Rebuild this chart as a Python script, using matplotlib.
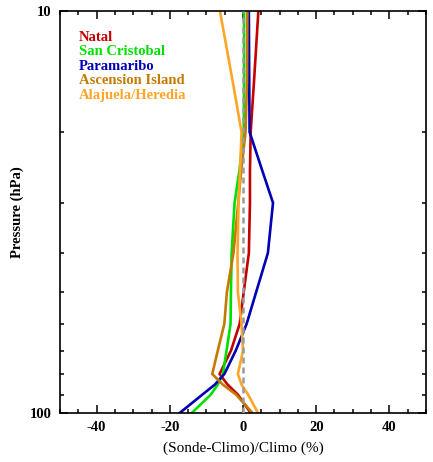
import matplotlib
matplotlib.use("Agg")
import matplotlib.pyplot as plt
from matplotlib.ticker import NullFormatter, MultipleLocator

plt.rcParams["axes.unicode_minus"] = False

# pressure levels (hPa) shared by all stations
pressure = [10, 15, 20, 25, 30, 40, 50, 60, 70, 80, 85, 90, 100]

# relative difference sonde vs climatology (%)
natal = [4.2, 3.0, 2.1, 1.9, 1.9, 1.6, 0.2, -0.9, -3.3, -6.4, -4.2, -1.4, 2.1]
san_cristobal = [0.3, 0.3, 0.2, -1.0, -2.3, -3.1, -3.3, -3.4, -4.5, -5.5, -6.9, -8.8, -14.0]
paramaribo = [1.6, 1.7, 1.8, 5.3, 8.2, 6.8, 3.6, 1.0, -2.0, -5.1, -7.7, -11.1, -17.3]
ascension = [1.2, 1.1, 0.7, -0.5, -1.3, -2.6, -4.4, -5.1, -6.9, -8.4, -5.5, -1.9, 2.6]
alajuela = [-6.3, -2.8, -0.4, -0.8, -1.2, -1.5, -1.4, -0.4, 0.0, -1.4, -0.4, 1.4, 4.1]

stations = ["Natal", "San Cristobal", "Paramaribo", "Ascension Island", "Alajuela/Heredia"]
profiles = [natal, san_cristobal, paramaribo, ascension, alajuela]
colors = ["#C40000", "#00E000", "#0000B4", "#C47A00", "#FFA528"]

serif = ["Liberation Serif", "DejaVu Serif"]

fig = plt.figure(figsize=(4.33, 4.62), dpi=100)
ax = fig.add_axes([60 / 433, 1 - 413 / 462, 366 / 433, 402 / 462])

for prof, col in zip(profiles, colors):
    ax.plot(prof, pressure, color=col, lw=1.9, solid_joinstyle="miter")

ax.axvline(0, color="#9a9a9a", lw=1.8, ls=(0, (2.4, 1.6)), zorder=5)

ax.set_yscale("log")
ax.set_ylim(100, 10)
ax.set_xlim(-50, 50)

ax.set_yticks([10, 100])
ax.set_yticklabels(["10", "100"])
ax.set_yticks(list(range(20, 100, 10)), minor=True)
ax.yaxis.set_minor_formatter(NullFormatter())

ax.xaxis.set_major_locator(MultipleLocator(20))
ax.xaxis.set_minor_locator(MultipleLocator(5))

ax.tick_params(which="both", direction="in", top=True, right=True, width=1.1)
ax.tick_params(which="major", length=5.5, pad=6)
ax.tick_params(which="minor", length=2.8)
for lab in ax.get_xticklabels() + ax.get_yticklabels():
    lab.set_family(serif)
    lab.set_fontweight("bold")
    lab.set_fontsize(10.5)

for sp in ax.spines.values():
    sp.set_linewidth(1.2)

ax.set_xlabel("(Sonde-Climo)/Climo (%)", family=serif, fontsize=11, labelpad=5)
fig.text(17 / 433, 1 - 212 / 462, "Pressure (hPa)", rotation=90, ha="center", va="center",
         family=serif, fontweight="bold", fontsize=10.5)

# station key in the upper left corner
for i, (name, col) in enumerate(zip(stations, colors)):
    ax.text(0.052, 0.935 - i * 0.036, name, transform=ax.transAxes, color=col,
            family=serif, fontweight="bold", fontsize=10.5, va="center", ha="left")

fig.savefig("out.png", dpi=100)
